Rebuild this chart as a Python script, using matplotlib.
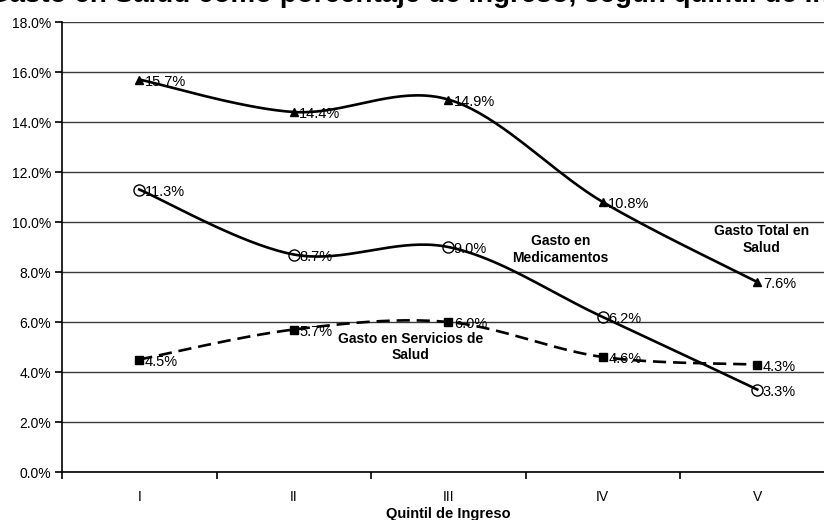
"""Gasto en salud como porcentaje del ingreso, por quintil."""
import matplotlib
matplotlib.use("Agg")
import matplotlib.pyplot as plt
import numpy as np
from matplotlib.ticker import FixedLocator, FuncFormatter

plt.rcParams["font.family"] = ["Liberation Sans", "DejaVu Sans"]

quintiles = ["I", "II", "III", "IV", "V"]
gasto_total = [15.7, 14.4, 14.9, 10.8, 7.6]
gasto_medicamentos = [11.3, 8.7, 9.0, 6.2, 3.3]
gasto_servicios = [4.5, 5.7, 6.0, 4.6, 4.3]


def smooth(xs, ys, steps=40):
    """Bezier smoothing through every point (same idea as a spreadsheet 'smoothed line')."""
    pts = np.column_stack([xs, ys]).astype(float)
    n = len(pts)
    out = [pts[0]]
    t = np.linspace(0, 1, steps)[1:, None]
    for i in range(n - 1):
        p0 = pts[max(i - 1, 0)]
        p1 = pts[i]
        p2 = pts[i + 1]
        p3 = pts[min(i + 2, n - 1)]
        c1 = p1 + (p2 - p0) / 6
        c2 = p2 - (p3 - p1) / 6
        seg = ((1 - t) ** 3) * p1 + 3 * ((1 - t) ** 2) * t * c1 \
            + 3 * (1 - t) * t ** 2 * c2 + t ** 3 * p2
        out.extend(seg)
    out = np.array(out)
    return out[:, 0], out[:, 1]


fig = plt.figure(figsize=(8.24, 5.2), dpi=100)
ax = fig.add_axes([62 / 824, 48 / 520, 772.5 / 824, 450 / 520])

x = np.arange(len(quintiles))

series = [
    (gasto_total, "^", 6, "black", "-"),
    (gasto_medicamentos, "o", 8, "none", "-"),
    (gasto_servicios, "s", 6, "black", (0, (5, 2.6))),
]
for vals, mk, ms, face, ls in series:
    sx, sy = smooth(x, vals)
    ax.plot(sx, sy, color="black", lw=1.9, ls=ls, zorder=3)
    ax.plot(x, vals, ls="none", marker=mk, ms=ms, mfc=face, mec="black",
            mew=1.0, zorder=4)
    for xi, v in zip(x, vals):
        ax.annotate(f"{v:.1f}%", (xi, v), xytext=(4, -1.5),
                    textcoords="offset points", ha="left", va="center",
                    fontsize=10.5, zorder=5)

ax.text(2.725, 8.9, "Gasto en\nMedicamentos", ha="center", va="center",
        fontsize=10, fontweight="bold", linespacing=1.25)
ax.text(4.03, 9.3, "Gasto Total en\nSalud", ha="center", va="center",
        fontsize=10, fontweight="bold", linespacing=1.25)
ax.text(1.754, 5.0, "Gasto en Servicios de\nSalud", ha="center", va="center",
        fontsize=10, fontweight="bold", linespacing=1.25)

ax.set_xlim(-0.5, 4.5)
ax.set_ylim(0, 18)
ax.set_yticks(np.arange(0, 18.1, 2))
ax.yaxis.set_major_formatter(FuncFormatter(lambda v, _: f"{v:.1f}%"))
ax.yaxis.grid(True, color="#3a3a3a", lw=1.0)
ax.set_axisbelow(True)

ax.set_xticks(x)
ax.set_xticklabels(quintiles)
ax.xaxis.set_minor_locator(FixedLocator(np.arange(-0.5, 4.6, 1)))
ax.tick_params(axis="x", which="major", length=0, pad=13, labelsize=10)
ax.tick_params(axis="x", which="minor", length=5, width=1.2, direction="out")
ax.tick_params(axis="y", length=5, width=1.2, direction="out", labelsize=10,
               pad=3)
ax.set_xlabel("Quintil de Ingreso", fontsize=10.5, fontweight="bold",
              labelpad=2)

for side in ("top", "right"):
    ax.spines[side].set_visible(False)
for side in ("left", "bottom"):
    ax.spines[side].set_linewidth(1.2)

# title sits partly above the top edge of the figure
fig.text(-12 / 824, 1 - 2 / 520,
         "Gasto en Salud como porcentaje de Ingreso, según quintil de Ingreso",
         ha="left", va="baseline", fontsize=20, fontweight="bold")

fig.savefig("out.png", dpi=100)
